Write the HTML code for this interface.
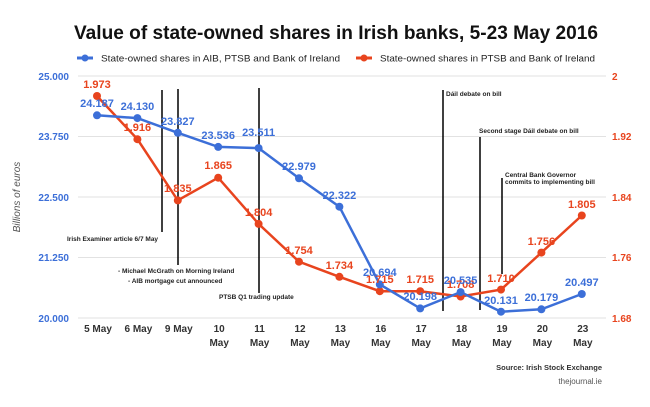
<!DOCTYPE html>
<html><head><meta charset="utf-8"><style>body{margin:0;background:#fff}svg{display:block}text{font-family:"Liberation Sans",Arial,sans-serif}</style></head><body>
<svg width="650" height="407" viewBox="0 0 650 407" xmlns="http://www.w3.org/2000/svg">
<text x="74" y="39" font-size="19" font-weight="bold" fill="#111" textLength="524" lengthAdjust="spacingAndGlyphs">Value of state-owned shares in Irish banks, 5-23 May 2016</text>
<line x1="77" y1="58" x2="93" y2="58" stroke="#3c6fd8" stroke-width="3"/><circle cx="85" cy="58" r="3.5" fill="#3c6fd8"/>
<text x="101" y="61.5" font-size="9.5" fill="#222" textLength="239" lengthAdjust="spacingAndGlyphs">State-owned shares in AIB, PTSB and Bank of Ireland</text>
<line x1="356" y1="58" x2="372" y2="58" stroke="#e8441e" stroke-width="3"/><circle cx="364" cy="58" r="3.5" fill="#e8441e"/>
<text x="380" y="61.5" font-size="9.5" fill="#222" textLength="215" lengthAdjust="spacingAndGlyphs">State-owned shares in PTSB and Bank of Ireland</text>
<g stroke="#e2e2e2" stroke-width="1">
<line x1="78" y1="76" x2="606" y2="76"/><line x1="78" y1="136.5" x2="606" y2="136.5"/><line x1="78" y1="197" x2="606" y2="197"/><line x1="78" y1="257.5" x2="606" y2="257.5"/><line x1="78" y1="318" x2="606" y2="318"/></g>
<g font-size="10" fill="#3c6fd8" text-anchor="end" font-weight="bold">
<text x="69" y="80">25.000</text><text x="69" y="140">23.750</text><text x="69" y="201">22.500</text><text x="69" y="261">21.250</text><text x="69" y="322">20.000</text></g>
<g font-size="10" fill="#e8441e" text-anchor="start" font-weight="bold">
<text x="612" y="80">2</text><text x="612" y="140">1.92</text><text x="612" y="201">1.84</text><text x="612" y="261">1.76</text><text x="612" y="322">1.68</text></g>
<text transform="translate(20,197) rotate(-90)" text-anchor="middle" font-size="10" font-style="italic" fill="#555">Billions of euros</text>
<g stroke="#000" stroke-width="1.5">
<line x1="162" y1="90" x2="162" y2="232"/><line x1="178" y1="89" x2="178" y2="265"/><line x1="259" y1="88" x2="259" y2="293"/><line x1="443" y1="90" x2="443" y2="311"/><line x1="480" y1="137" x2="480" y2="310"/><line x1="502" y1="178" x2="502" y2="274"/></g>
<g font-size="6.5" fill="#222" font-weight="bold">
<text x="67" y="241">Irish Examiner article 6/7 May</text>
<text x="118" y="273">- Michael McGrath on Morning Ireland</text>
<text x="128" y="283">- AIB mortgage cut announced</text>
<text x="219" y="299">PTSB Q1 trading update</text>
<text x="446" y="96">Dáil debate on bill</text>
<text x="479" y="133">Second stage Dáil debate on bill</text>
<text x="505" y="177">Central Bank Governor</text>
<text x="505" y="184">commits to implementing bill</text></g>
<polyline fill="none" stroke="#e8441e" stroke-width="2.5" points="97,96 137.4,139.2 177.8,200.4 218.2,177.7 258.6,223.9 299,261.7 339.4,276.8 379.8,291.2 420.2,291.2 460.6,296.5 501,289.6 541.4,252.6 581.8,215.5"/>
<polyline fill="none" stroke="#3c6fd8" stroke-width="2.5" points="97,115.3 137.4,118.1 177.8,132.8 218.2,146.9 258.6,148.1 299,178.3 339.4,206.7 379.8,284.4 420.2,308.4 460.6,292.1 501,311.7 541.4,309.3 581.8,294"/>
<g fill="#e8441e"><circle cx="97" cy="96" r="4"/><circle cx="137.4" cy="139.2" r="4"/><circle cx="177.8" cy="200.4" r="4"/><circle cx="218.2" cy="177.7" r="4"/><circle cx="258.6" cy="223.9" r="4"/><circle cx="299" cy="261.7" r="4"/><circle cx="339.4" cy="276.8" r="4"/><circle cx="379.8" cy="291.2" r="4"/><circle cx="420.2" cy="291.2" r="4"/><circle cx="460.6" cy="296.5" r="4"/><circle cx="501" cy="289.6" r="4"/><circle cx="541.4" cy="252.6" r="4"/><circle cx="581.8" cy="215.5" r="4"/></g>
<g fill="#3c6fd8"><circle cx="97" cy="115.3" r="4"/><circle cx="137.4" cy="118.1" r="4"/><circle cx="177.8" cy="132.8" r="4"/><circle cx="218.2" cy="146.9" r="4"/><circle cx="258.6" cy="148.1" r="4"/><circle cx="299" cy="178.3" r="4"/><circle cx="339.4" cy="206.7" r="4"/><circle cx="379.8" cy="284.4" r="4"/><circle cx="420.2" cy="308.4" r="4"/><circle cx="460.6" cy="292.1" r="4"/><circle cx="501" cy="311.7" r="4"/><circle cx="541.4" cy="309.3" r="4"/><circle cx="581.8" cy="294" r="4"/></g>
<g font-size="11" fill="#e8441e" text-anchor="middle" font-weight="bold">
<text x="97" y="88">1.973</text><text x="137.4" y="131">1.916</text><text x="177.8" y="192">1.835</text><text x="218.2" y="169">1.865</text><text x="258.6" y="216">1.804</text><text x="299" y="254">1.754</text><text x="339.4" y="269">1.734</text><text x="379.8" y="283">1.715</text><text x="420.2" y="283">1.715</text><text x="460.6" y="288">1.708</text><text x="501" y="282">1.710</text><text x="541.4" y="245">1.756</text><text x="581.8" y="208">1.805</text></g>
<g font-size="11" fill="#3c6fd8" text-anchor="middle" font-weight="bold">
<text x="97" y="107">24.187</text><text x="137.4" y="110">24.130</text><text x="177.8" y="125">23.827</text><text x="218.2" y="139">23.536</text><text x="258.6" y="136">23.511</text><text x="299" y="170">22.979</text><text x="339.4" y="199">22.322</text><text x="379.8" y="276">20.694</text><text x="420.2" y="300">20.198</text><text x="460.6" y="284">20.535</text><text x="501" y="304">20.131</text><text x="541.4" y="301">20.179</text><text x="581.8" y="286">20.497</text></g>
<g font-size="10" fill="#333" text-anchor="middle" font-weight="bold">
<text x="98" y="332">5 May</text><text x="138.4" y="332">6 May</text><text x="178.8" y="332">9 May</text>
<text x="219.2" y="332">10</text><text x="219.2" y="346">May</text><text x="259.6" y="332">11</text><text x="259.6" y="346">May</text><text x="300" y="332">12</text><text x="300" y="346">May</text><text x="340.4" y="332">13</text><text x="340.4" y="346">May</text><text x="380.8" y="332">16</text><text x="380.8" y="346">May</text><text x="421.2" y="332">17</text><text x="421.2" y="346">May</text><text x="461.6" y="332">18</text><text x="461.6" y="346">May</text><text x="502" y="332">19</text><text x="502" y="346">May</text><text x="542.4" y="332">20</text><text x="542.4" y="346">May</text><text x="582.8" y="332">23</text><text x="582.8" y="346">May</text></g>
<text x="602" y="370" text-anchor="end" font-size="7.5" font-weight="bold" fill="#333">Source: Irish Stock Exchange</text>
<text x="602" y="384" text-anchor="end" font-size="8" fill="#555" font-family="Liberation Serif,serif">thejournal.ie</text>
</svg>
</body></html>
